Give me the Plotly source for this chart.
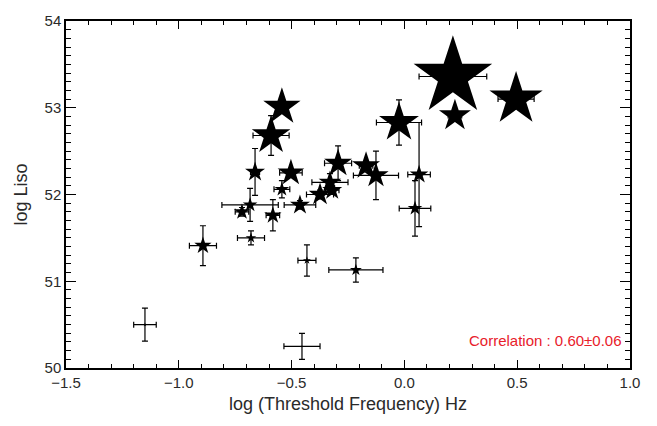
import plotly.graph_objects as go

# data
freq = [0.215, 0.495, 0.224, -0.024, 0.065, 0.047, -0.294, -0.170, -0.126, -0.330,
        -0.374, -0.463, -0.320, -0.543, -0.591, -0.662, -0.503, -0.543, -0.684, -0.720,
        -0.583, -0.893, -0.680, -0.432, -0.215, -1.150, -0.454]
freq_err = [0.15, 0.08, 0.03, 0.10, 0.05, 0.07, 0.06, 0.03, 0.10, 0.08,
            0.06, 0.07, 0.03, 0.02, 0.08, 0.02, 0.05, 0.035, 0.125, 0.03,
            0.03, 0.06, 0.06, 0.04, 0.12, 0.05, 0.08]
liso = [53.36, 53.10, 52.91, 52.83, 52.23, 51.84, 52.36, 52.33, 52.22, 52.14,
        52.00, 51.88, 52.05, 53.01, 52.68, 52.26, 52.25, 52.06, 51.88, 51.80,
        51.76, 51.41, 51.50, 51.24, 51.13, 50.50, 50.25]
liso_err = [0.10, 0.10, 0.05, 0.26, 0.60, 0.32, 0.20, 0.05, 0.28, 0.10,
            0.05, 0.05, 0.05, 0.05, 0.23, 0.27, 0.05, 0.10, 0.19, 0.05,
            0.18, 0.23, 0.08, 0.18, 0.14, 0.19, 0.15]
msize = [59, 40, 24, 30, 14, 11, 21, 21, 19, 17,
         17, 15, 15, 28, 29, 15, 20, 11, 11, 12,
         13, 13, 8, 6, 9, 3, 2]

corr_text = "Correlation : 0.60±0.06"

fig = go.Figure()
# error bars (drawn underneath)
fig.add_trace(go.Scatter(
    x=freq, y=liso, mode="markers",
    marker=dict(size=1, color="rgba(0,0,0,0)", opacity=1),
    error_x=dict(type="data", array=freq_err, color="black", thickness=1.2, width=3),
    error_y=dict(type="data", array=liso_err, color="black", thickness=1.2, width=3),
    showlegend=False, hoverinfo="skip",
))
# star markers on top
fig.add_trace(go.Scatter(
    x=freq, y=liso, mode="markers",
    marker=dict(symbol="star", size=msize, color="black", opacity=1, line=dict(width=0)),
    showlegend=False,
))

font = dict(family="Liberation Sans, Arial, sans-serif", size=15, color="#2a2a2a")

fig.update_layout(
    width=657, height=426,
    margin=dict(l=66, r=27, t=14, b=58),
    paper_bgcolor="white", plot_bgcolor="white",
    font=font,
    xaxis=dict(
        range=[-1.5, 1.0], tickvals=[-1.5, -1.0, -0.5, 0.0, 0.5, 1.0],
        ticktext=["−1.5", "−1.0", "−0.5", "0.0", "0.5", "1.0"],
        ticks="inside", ticklen=8, tickwidth=1.2, tickcolor="black",
        minor=dict(dtick=0.1, ticks="inside", ticklen=4, tickwidth=1.2, tickcolor="black"),
        showline=True, linecolor="black", linewidth=1.5, mirror="allticks",
        showgrid=False, zeroline=False,
        title=dict(text="log (Threshold Frequency) Hz", standoff=8),
    ),
    yaxis=dict(
        range=[50, 54], tickvals=[50, 51, 52, 53, 54],
        ticks="inside", ticklen=10, tickwidth=1.2, tickcolor="black",
        minor=dict(dtick=0.1, ticks="inside", ticklen=5, tickwidth=1.2, tickcolor="black"),
        showline=True, linecolor="black", linewidth=1.5, mirror="allticks",
        showgrid=False, zeroline=False,
        title=dict(text="log Liso", standoff=12),
    ),
    annotations=[dict(
        x=0.975, y=50.32, xref="x", yref="y", text=corr_text, showarrow=False,
        xanchor="right", yanchor="middle",
        font=dict(family="Liberation Sans, Arial, sans-serif", size=15, color="#e8202a"),
    )],
)

fig.write_html("out.html")
